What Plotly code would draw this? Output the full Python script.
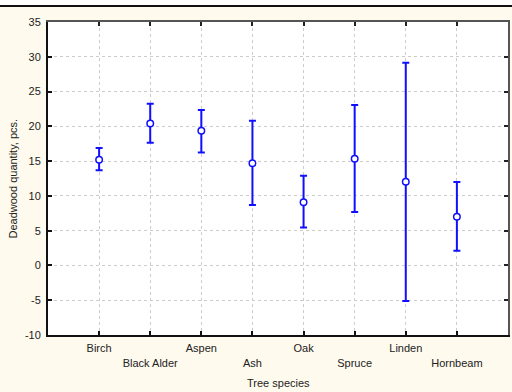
import plotly.graph_objects as go

# Deadwood quantity by tree species: mean with confidence interval bounds
species = ["Birch", "Black Alder", "Aspen", "Ash", "Oak", "Spruce", "Linden", "Hornbeam"]
mean_qty = [15.2, 20.4, 19.35, 14.7, 9.1, 15.35, 12.05, 7.0]
lower_qty = [13.7, 17.65, 16.25, 8.7, 5.45, 7.7, -5.1, 2.1]
upper_qty = [16.9, 23.25, 22.35, 20.8, 12.9, 23.05, 29.15, 12.0]
y_ticks = [-10, -5, 0, 5, 10, 15, 20, 25, 30, 35]
y_tick_text = ["-10", "-5", "0", "5", "10", "15", "20", "25", "30", "35"]

pos = list(range(1, len(species) + 1))
err_plus = [u - m for u, m in zip(upper_qty, mean_qty)]
err_minus = [m - l for m, l in zip(mean_qty, lower_qty)]

# stagger labels over two rows
tick_text = [s if i % 2 == 0 else "<br>" + s for i, s in enumerate(species)]

BLUE = "#1010ff"
FONT = "Liberation Sans, Arial, sans-serif"
CREAM = "#fffaee"

W, H = 512, 392
ML, MR, MT, MB = 48, 4, 22, 57
plot_w = W - ML - MR
plot_h = H - MT - MB

fig = go.Figure()
fig.add_trace(go.Scatter(
    x=pos, y=mean_qty, mode="markers",
    marker=dict(symbol="circle", size=6.5, color="white",
                line=dict(color=BLUE, width=1.5)),
    error_y=dict(type="data", symmetric=False, array=err_plus,
                 arrayminus=err_minus, color=BLUE, thickness=2, width=3.5),
    showlegend=False, hoverinfo="skip",
))
# empty trace carrying the top/right frame axes
fig.add_trace(go.Scatter(x=[], y=[], xaxis="x2", yaxis="y2",
                         showlegend=False, hoverinfo="skip"))

axis_font = dict(family=FONT, size=11, color="#222222")

fig.update_layout(
    width=W, height=H,
    margin=dict(l=ML, r=MR, t=MT, b=MB),
    paper_bgcolor=CREAM, plot_bgcolor="white",
    font=dict(family=FONT, size=11, color="#222222"),
    xaxis=dict(
        range=[0, len(species) + 1], tickmode="array", tickvals=pos,
        ticktext=tick_text, tickfont=axis_font,
        ticks="inside", ticklen=4, tickwidth=1.5, tickcolor="#111111",
        showline=True, linecolor="#111111", linewidth=2,
        showgrid=True, gridcolor="#cccccc", griddash="dot", gridwidth=1,
        zeroline=False, ticklabelstandoff=2,
    ),
    yaxis=dict(
        range=[-10, 35], tickmode="array", tickvals=y_ticks,
        ticktext=y_tick_text, tickfont=axis_font,
        ticks="inside", ticklen=4, tickwidth=1.5, tickcolor="#111111",
        showline=True, linecolor="#111111", linewidth=2,
        showgrid=True, gridcolor="#cccccc", griddash="dot", gridwidth=1,
        zeroline=False, ticklabelstandoff=3,
    ),
    xaxis2=dict(
        overlaying="x", side="top", anchor="y2", range=[0, len(species) + 1],
        tickmode="array", tickvals=pos, showticklabels=False,
        ticks="inside", ticklen=4, tickwidth=1.5, tickcolor="#222222",
        showline=True, linecolor="#555555", linewidth=2,
        showgrid=False, zeroline=False,
    ),
    yaxis2=dict(
        overlaying="y", side="right", anchor="x2", range=[-10, 35],
        tickmode="array", tickvals=y_ticks, showticklabels=False,
        ticks="inside", ticklen=4, tickwidth=1.5, tickcolor="#222222",
        showline=True, linecolor="#555555", linewidth=2,
        showgrid=False, zeroline=False,
    ),
)

# axis titles
fig.add_annotation(text="Tree species", xref="paper", yref="paper",
                   x=0.5, y=-(383 - (MT + plot_h)) / plot_h,
                   xanchor="center", yanchor="middle", showarrow=False,
                   font=axis_font)
fig.add_annotation(text="Deadwood quantity, pcs.", xref="paper", yref="paper",
                   x=(12 - ML) / plot_w, y=0.5, textangle=-90,
                   xanchor="center", yanchor="middle", showarrow=False,
                   font=axis_font)

# white strip with a dark rule across the top of the page
y_rule = 1 + (MT - 6) / plot_h
y_top = 1 + MT / plot_h
x0 = -ML / plot_w
x1 = 1 + MR / plot_w
fig.add_shape(type="rect", xref="paper", yref="paper", x0=x0, x1=x1,
              y0=y_rule, y1=y_top, fillcolor="white", line=dict(width=0),
              layer="below")
fig.add_shape(type="line", xref="paper", yref="paper", x0=x0, x1=x1,
              y0=y_rule, y1=y_rule, line=dict(color="#111111", width=2))

fig.write_html("out.html")
